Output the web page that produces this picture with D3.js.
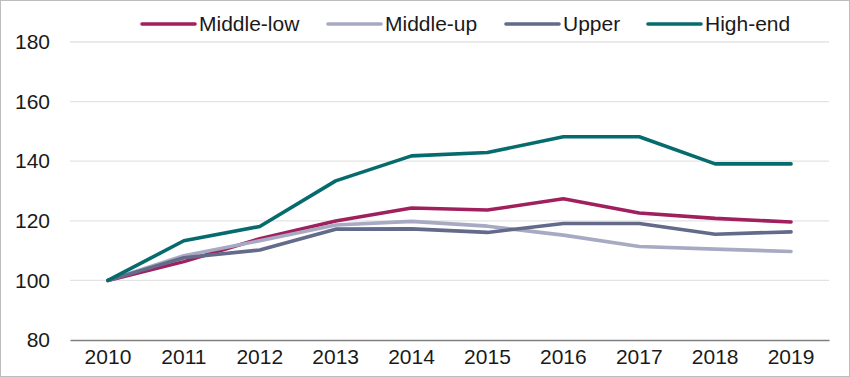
<!DOCTYPE html>
<html>
<head>
<meta charset="utf-8">
<script src="https://cdn.jsdelivr.net/npm/d3@7"></script>
<style>
  body { margin: 0; background: #fff; }
  svg { display: block; font-family: "Liberation Sans", Arial, sans-serif; }
</style>
</head>
<body>
<div id="chart"></div>
<script>
const years = ["2010", "2011", "2012", "2013", "2014", "2015", "2016", "2017", "2018", "2019"];
const middleLow = [100, 106.3, 114, 119.9, 124.3, 123.6, 127.4, 122.6, 120.8, 119.6];
const middleUp = [100, 108.3, 113.3, 118.6, 119.8, 118.2, 115.2, 111.4, 110.5, 109.7];
const upper = [100, 107.6, 110.2, 117.2, 117.3, 116.1, 119.1, 119.1, 115.5, 116.3];
const highEnd = [100, 113.3, 118.1, 133.4, 141.8, 142.9, 148.2, 148.2, 139.1, 139.1];
const yTicks = [80, 100, 120, 140, 160, 180];

const seriesNames = ["Middle-low", "Middle-up", "Upper", "High-end"];
const seriesColors = ["#A0205E", "#A7AAC2", "#636A8A", "#066B6D"];
const seriesData = [middleLow, middleUp, upper, highEnd];

const width = 850, height = 377;
const margin = { top: 42, right: 21, bottom: 37, left: 70 };
const fontSize = 21;

const svg = d3.select("#chart")
    .append("svg")
    .attr("width", width)
    .attr("height", height);

// thin frame around the picture
svg.append("rect")
    .attr("x", 0.5).attr("y", 0.5)
    .attr("width", width - 1).attr("height", height - 1)
    .attr("fill", "none")
    .attr("stroke", "#bdbdbd");

const x = d3.scaleBand()
    .domain(years)
    .range([margin.left, width - margin.right]);

const y = d3.scaleLinear()
    .domain([80, 180])
    .range([height - margin.bottom, margin.top]);

// gridlines
svg.append("g")
    .selectAll("line")
    .data(yTicks.filter(d => d > 80))
    .join("line")
    .attr("x1", margin.left)
    .attr("x2", width - margin.right)
    .attr("y1", d => y(d))
    .attr("y2", d => y(d))
    .attr("stroke", "#e3e3e3")
    .attr("stroke-width", 1.3);

// y axis labels
const yAxis = svg.append("g")
    .attr("transform", `translate(${margin.left},0)`)
    .call(d3.axisLeft(y).tickValues(yTicks).tickSize(0).tickPadding(20));
yAxis.select(".domain").remove();
yAxis.selectAll("text")
    .attr("font-size", fontSize)
    .attr("font-family", "Liberation Sans, Arial, sans-serif")
    .attr("fill", "#1a1a1a");

// x axis
const xAxis = svg.append("g")
    .attr("transform", `translate(0,${height - margin.bottom})`)
    .call(d3.axisBottom(x).tickSize(0).tickPadding(9));
xAxis.select(".domain")
    .attr("stroke", "#7f7f7f")
    .attr("stroke-width", 1.3);
xAxis.selectAll("text")
    .attr("font-size", fontSize)
    .attr("font-family", "Liberation Sans, Arial, sans-serif")
    .attr("fill", "#1a1a1a");

const line = d3.line()
    .x((d, i) => x(years[i]) + x.bandwidth() / 2)
    .y(d => y(d));

seriesData.forEach((data, i) => {
    svg.append("path")
        .datum(data)
        .attr("fill", "none")
        .attr("stroke", seriesColors[i])
        .attr("stroke-width", 3.6)
        .attr("stroke-linejoin", "round")
        .attr("stroke-linecap", "round")
        .attr("d", line);
});

// legend
const legendX = [141, 327, 505, 647];
const legend = svg.append("g");
seriesNames.forEach((name, i) => {
    const g = legend.append("g").attr("transform", `translate(${legendX[i]},24)`);
    g.append("line")
        .attr("x1", 1).attr("x2", 54)
        .attr("y1", 0).attr("y2", 0)
        .attr("stroke", seriesColors[i])
        .attr("stroke-width", 3.6)
        .attr("stroke-linecap", "round");
    g.append("text")
        .attr("x", 58)
        .attr("y", 0)
        .attr("dy", "0.35em")
        .attr("font-size", fontSize)
        .attr("fill", "#1a1a1a")
        .text(name);
});
</script>
</body>
</html>
